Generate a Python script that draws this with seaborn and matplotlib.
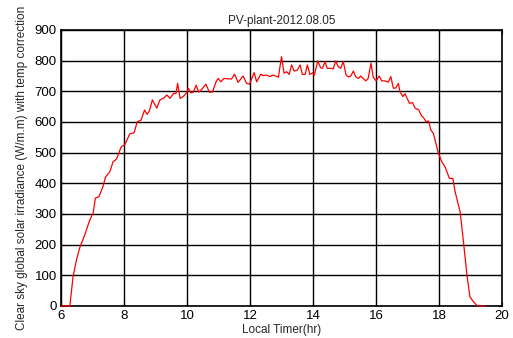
import matplotlib
matplotlib.use("Agg")
import matplotlib.pyplot as plt
import seaborn as sns
import pandas as pd

hours = [6.0, 6.28, 6.38, 6.49, 6.59, 6.75, 6.91, 7.02, 7.09, 7.2, 7.33, 7.41, 7.55, 7.65, 7.76, 7.91,
         8.02, 8.18, 8.32, 8.42, 8.54, 8.65, 8.73, 8.8, 8.9, 9.04, 9.14, 9.25, 9.36, 9.46, 9.57, 9.65,
         9.70, 9.78, 9.88, 9.97, 10.04, 10.12, 10.2, 10.29, 10.37, 10.47, 10.6, 10.71, 10.81, 10.92,
         10.99, 11.07, 11.17, 11.27, 11.41, 11.51, 11.62, 11.72, 11.78, 11.89, 11.98, 12.05, 12.13,
         12.21, 12.34, 12.42, 12.52, 12.63, 12.73, 12.79, 12.9, 13.0, 13.08, 13.16, 13.24, 13.32,
         13.4, 13.5, 13.59, 13.66, 13.75, 13.82, 13.9, 13.98, 14.04, 14.15, 14.24, 14.3, 14.38, 14.45,
         14.56, 14.64, 14.72, 14.8, 14.88, 14.96, 15.05, 15.12, 15.2, 15.28, 15.36, 15.44, 15.51,
         15.59, 15.68, 15.75, 15.84, 15.91, 16.0, 16.1, 16.18, 16.28, 16.39, 16.47, 16.55, 16.63,
         16.71, 16.76, 16.85, 16.92, 17.0, 17.06, 17.16, 17.24, 17.35, 17.45, 17.5, 17.59, 17.67,
         17.74, 17.82, 17.9, 17.98, 18.09, 18.19, 18.33, 18.44, 18.51, 18.67, 18.77, 18.88, 18.98,
         19.09, 19.22, 19.46]
irradiance = [0, 0, 95, 150, 189, 231, 280, 303, 352, 356, 389, 420, 438, 470, 479, 519,
              525, 561, 565, 601, 606, 639, 625, 635, 672, 645, 672, 677, 688, 677, 693, 693,
              726, 677, 683, 693, 710, 695, 697, 720, 697, 707, 723, 697, 698, 731,
              742, 731, 742, 741, 740, 756, 729, 742, 750, 726, 723, 740, 761,
              731, 756, 751, 753, 748, 753, 751, 746, 813, 759, 764, 755, 786,
              766, 769, 786, 755, 755, 786, 755, 760, 752, 799, 777, 775, 797, 775,
              775, 773, 799, 780, 775, 797, 753, 747, 750, 766, 747, 742, 750,
              742, 734, 742, 792, 747, 734, 750, 734, 734, 730, 748, 710, 711,
              726, 699, 683, 692, 674, 661, 663, 645, 640, 619, 615, 601, 603,
              574, 563, 530, 498, 470, 454, 416, 416, 373, 307, 215, 107, 30,
              14, 0, 0]

title = "PV-plant-2012.08.05"
xlabel = "Local Timer(hr)"
ylabel = "Clear sky global solar irradiance (W/m.m) with temp correction"

df = pd.DataFrame({"hour": hours, "irr": irradiance})

sns.set_theme(style="white")
plt.rcParams["font.family"] = ["Liberation Sans", "DejaVu Sans"]

fig = plt.figure(figsize=(5.13, 3.38), dpi=100)
ax = fig.add_axes([0.119, 0.0947, 0.8596, 0.8166])
sns.lineplot(data=df, x="hour", y="irr", color="red", linewidth=0.9, ax=ax)
for ln in ax.lines:
    ln.set_zorder(3)
    ln.set_clip_on(False)
ax.set_xlim(6, 20)
ax.set_ylim(0, 900)
ax.set_xticks(range(6, 21, 2))
ax.set_yticks(range(0, 901, 100))
ax.grid(True, color="black", linewidth=1.0, linestyle="-")
for s in ax.spines.values():
    s.set_color("black")
    s.set_linewidth(1.2)
ax.tick_params(direction="in", length=3, width=0.8, labelsize=9.5, colors="black", pad=3,
               top=True, right=True, bottom=True, left=True)
ax.set_title(title, fontsize=8.5, pad=4)
ax.set_xlabel(xlabel, fontsize=8.5, labelpad=1)
ax.set_ylabel(ylabel, fontsize=8.5, labelpad=5)
fig.savefig("out.png", dpi=100)
